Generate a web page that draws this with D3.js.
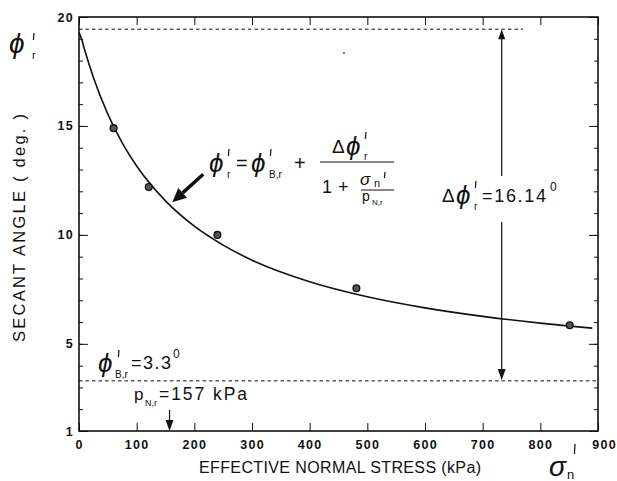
<!DOCTYPE html>
<html><head><meta charset="utf-8">
<script src="https://cdn.jsdelivr.net/npm/d3@7"></script>
<style>
body{margin:0;background:#fff}
svg{display:block}
text{font-family:"Liberation Sans",Arial,Helvetica,sans-serif;fill:#111}
</style>
</head><body>
<svg id="chart" width="617" height="481"></svg>
<script>
// ---- data ----
const stressPoints = [60, 121, 240, 481, 851];
const anglePoints  = [14.9, 12.2, 10.0, 7.55, 5.85];
const curveStress  = [0, 5, 10, 25, 50, 75, 100, 150, 200, 250, 300, 400, 500, 600, 700, 800, 890];
const curveAngle   = [19.3, 18.94, 18.47, 17.22, 15.54, 14.22, 13.16, 11.56, 10.40, 9.53, 8.84, 7.85, 7.16, 6.65, 6.26, 5.95, 5.72];
const xTickValues  = [0, 100, 200, 300, 400, 500, 600, 700, 800, 900];
const yTickValues  = [1, 5, 10, 15, 20];
const yMinorValues = [1, 2, 3, 4, 5, 6, 7, 8, 9, 10, 11, 12, 13, 14, 15, 16, 17, 18, 19, 20];
const phiBase = 3.3;       // lower asymptote
const phiTop = 19.44;      // phiBase + deltaPhi
const pN = 157;            // kPa
const deltaArrowStress = 733;
const topDashEnd = 770;
const pointerTip = [160, 11.45];

const svg = d3.select("#chart");
const x = d3.scaleLinear().domain([0, 900]).range([79, 598]);
const y = d3.scaleLinear().domain([1, 20]).range([431, 17]);
const ink = "#111";

// frame
svg.append("rect").attr("x", x(0)).attr("y", y(20))
  .attr("width", x(900) - x(0)).attr("height", y(1) - y(20))
  .attr("fill", "none").attr("stroke", ink).attr("stroke-width", 1.6);

function styleAxis(g) {
  g.select(".domain").remove();
  g.selectAll(".tick line").attr("stroke", ink).attr("stroke-width", 1);
  g.selectAll(".tick text").attr("fill", ink).attr("font-size", 12.5)
    .attr("font-weight", "bold").attr("letter-spacing", 1.3)
    .attr("font-family", "'Liberation Sans', Arial, sans-serif");
}

// bottom axis (ticks inward)
const gb = svg.append("g").attr("transform", `translate(0,${y(1)})`)
  .call(d3.axisBottom(x).tickValues(xTickValues).tickSizeInner(-8).tickSizeOuter(0).tickPadding(9));
styleAxis(gb);
gb.selectAll(".tick text").filter(d => d === 900).attr("dx", 6);

// top axis
const gt = svg.append("g").attr("transform", `translate(0,${y(20)})`)
  .call(d3.axisTop(x).tickValues(xTickValues).tickSizeInner(-8).tickSizeOuter(0).tickFormat(""));
styleAxis(gt);

// left axis minor + major
const glm = svg.append("g").attr("transform", `translate(${x(0)},0)`)
  .call(d3.axisLeft(y).tickValues(yMinorValues).tickSizeInner(-4).tickSizeOuter(0).tickFormat(""));
styleAxis(glm);
const gl = svg.append("g").attr("transform", `translate(${x(0)},0)`)
  .call(d3.axisLeft(y).tickValues(yTickValues).tickSizeInner(-9).tickSizeOuter(0).tickPadding(5));
styleAxis(gl);

// right axis minor + major
const grm = svg.append("g").attr("transform", `translate(${x(900)},0)`)
  .call(d3.axisRight(y).tickValues(yMinorValues).tickSizeInner(-4).tickSizeOuter(0).tickFormat(""));
styleAxis(grm);
const gr = svg.append("g").attr("transform", `translate(${x(900)},0)`)
  .call(d3.axisRight(y).tickValues(yTickValues).tickSizeInner(-9).tickSizeOuter(0).tickFormat(""));
styleAxis(gr);

// dashed asymptotes
svg.append("line").attr("x1", x(0)).attr("x2", x(topDashEnd)).attr("y1", y(phiTop)).attr("y2", y(phiTop))
  .attr("stroke", ink).attr("stroke-width", 1).attr("stroke-dasharray", "3.5,3");
svg.append("line").attr("x1", x(0)).attr("x2", x(900)).attr("y1", y(phiBase)).attr("y2", y(phiBase))
  .attr("stroke", ink).attr("stroke-width", 1).attr("stroke-dasharray", "3.5,3");

// fitted curve
const curveData = curveStress.map((s, i) => [s, curveAngle[i]]);
svg.append("path").datum(curveData)
  .attr("d", d3.line().x(d => x(d[0])).y(d => y(d[1])).curve(d3.curveMonotoneX))
  .attr("fill", "none").attr("stroke", ink).attr("stroke-width", 1.6);

// data points
svg.selectAll("circle.pt").data(stressPoints).enter().append("circle")
  .attr("class", "pt").attr("cx", d => x(d)).attr("cy", (d, i) => y(anglePoints[i]))
  .attr("r", 3.4).attr("fill", "#555").attr("stroke", ink).attr("stroke-width", 1.3);

// stray speck in the scan
svg.append("circle").attr("cx", 344).attr("cy", 53).attr("r", 0.9).attr("fill", "#333");

// delta-phi double arrow
const ax = x(deltaArrowStress);
const yTopA = y(phiTop), yBotA = y(phiBase);
svg.append("line").attr("x1", ax).attr("x2", ax).attr("y1", yTopA + 6).attr("y2", 176).attr("stroke", ink).attr("stroke-width", 1.2);
svg.append("line").attr("x1", ax).attr("x2", ax).attr("y1", 222).attr("y2", yBotA - 6).attr("stroke", ink).attr("stroke-width", 1.2);
svg.append("path").attr("d", `M${ax},${yTopA} L${ax - 3.5},${yTopA + 10} L${ax + 3.5},${yTopA + 10} Z`).attr("fill", ink);
svg.append("path").attr("d", `M${ax},${yBotA - 1} L${ax - 4},${yBotA - 12} L${ax + 4},${yBotA - 12} Z`).attr("fill", ink);

// pN arrow
const px = x(pN);
svg.append("line").attr("x1", px).attr("x2", px).attr("y1", 410).attr("y2", 422).attr("stroke", ink).attr("stroke-width", 1.2);
svg.append("path").attr("d", `M${px},${y(1)} L${px - 4},${y(1) - 11} L${px + 4},${y(1) - 11} Z`).attr("fill", ink);

// pointer arrow to curve
const tipX = x(pointerTip[0]) + 1, tipY = y(pointerTip[1]) - 1;
const tailX = tipX + 31, tailY = tipY - 28;
const ang = Math.atan2(tipY - tailY, tipX - tailX);
const hl = 14, hw = 6.5;
const bx = tipX - hl * Math.cos(ang), by = tipY - hl * Math.sin(ang);
svg.append("line").attr("x1", tailX).attr("y1", tailY).attr("x2", bx).attr("y2", by)
  .attr("stroke", ink).attr("stroke-width", 3.5);
svg.append("path").attr("d",
  `M${tipX},${tipY} L${bx + hw * Math.sin(ang)},${by - hw * Math.cos(ang)} L${bx - hw * Math.sin(ang)},${by + hw * Math.cos(ang)} Z`)
  .attr("fill", ink);

// ---- text helpers ----
const greekIt = "'Noto Sans', 'DejaVu Sans', sans-serif";
function t(xp, yp, s, size, opts = {}) {
  const e = svg.append("text").attr("x", xp).attr("y", yp).attr("font-size", size).attr("fill", ink).text(s);
  if (opts.greek) e.attr("font-family", greekIt).attr("font-style", "italic").attr("font-weight", 300);
  if (opts.anchor) e.attr("text-anchor", opts.anchor);
  if (opts.len) e.attr("textLength", opts.len).attr("lengthAdjust", "spacing");
  if (opts.bold) e.attr("font-weight", "bold");
  if (opts.ls) e.attr("letter-spacing", opts.ls);
  return e;
}
function prime(xp, yp, h = 7) {
  svg.append("line").attr("x1", xp).attr("x2", xp - 0.6).attr("y1", yp).attr("y2", yp + h)
    .attr("stroke", ink).attr("stroke-width", 1.2);
}
const PHI = "\u03D5";

// top-left phi'_r
t(9, 53, PHI, 28, { greek: true });
prime(34, 33, 7);
t(32, 59, "r", 11);

// y-axis title
svg.append("text").attr("transform", "translate(25,228) rotate(-90)")
  .attr("text-anchor", "middle").attr("font-size", 16.5).attr("fill", ink)
  .attr("textLength", 228).attr("lengthAdjust", "spacing")
  .text("SECANT ANGLE  ( deg. )");

// x-axis title
t(340, 473, "EFFECTIVE NORMAL STRESS (kPa)", 16, { anchor: "middle", len: 282 });

// sigma'_n
t(549, 476, "\u03C3", 28, { greek: true });
prime(575, 444, 10);
t(567, 479, "n", 13);

// formula
t(209, 172, PHI, 26, { greek: true });
prime(229, 149, 7);
t(227, 178, "r", 10);
t(236, 170, "=", 20);
t(251, 172, PHI, 26, { greek: true });
prime(271, 149, 7);
t(269, 178, "B,r", 10);
t(294, 170, "+", 20);
// numerator
t(332, 153, "\u0394", 19);
t(346, 155, PHI, 26, { greek: true });
prime(366, 132, 7);
t(364, 160, "r", 10);
svg.append("line").attr("x1", 320).attr("x2", 394).attr("y1", 162).attr("y2", 162).attr("stroke", ink).attr("stroke-width", 1.2);
// denominator
t(322, 193, "1", 18);
t(338, 193, "+", 18);
t(360, 185, "\u03C3", 17, { greek: true });
prime(385, 172, 6);
t(374, 187, "n", 11);
svg.append("line").attr("x1", 361).attr("x2", 394).attr("y1", 190).attr("y2", 190).attr("stroke", ink).attr("stroke-width", 1);
t(362, 201, "p", 14);
t(372, 205, "N,r", 8);

// delta phi label
t(442, 202, "\u0394", 19);
t(456, 204, PHI, 26, { greek: true });
prime(476, 181, 7);
t(474, 210, "r", 10);
t(482, 202, "=16.14", 18, { len: 64 });
t(550, 191, "0", 12);

// phi_B,r label
t(98, 372, PHI, 26, { greek: true });
prime(119, 350, 7);
t(115, 378, "B,r", 10);
t(131, 369, "=3.3", 18, { len: 40 });
t(173, 358, "0", 12);

// pN label
t(134, 400, "p", 17);
t(145, 406, "N,r", 9);
t(159, 400, "=157 kPa", 17.5, { len: 88 });
</script>
</body></html>
